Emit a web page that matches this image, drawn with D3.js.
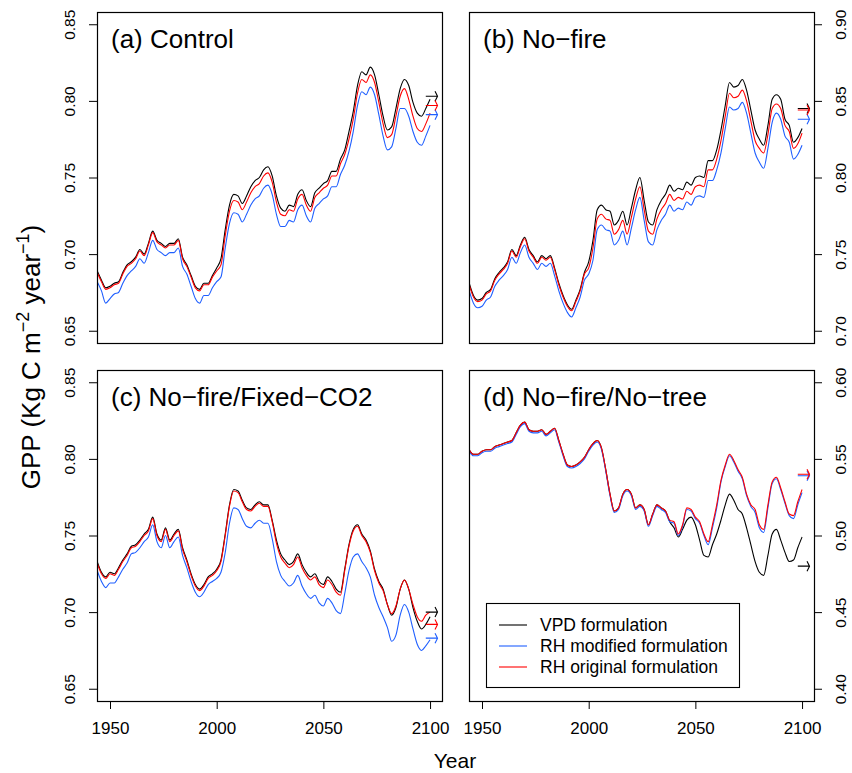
<!DOCTYPE html>
<html>
<head>
<meta charset="utf-8">
<script src="https://cdn.jsdelivr.net/npm/d3@7"></script>
<style>
  body { margin: 0; background: #fff; }
  svg { display: block; }
  text { font-family: "Liberation Sans", Arial, Helvetica, sans-serif; fill: #000; }
</style>
</head>
<body>
<svg id="chart" width="852" height="773"></svg>
<script>
// sample years shared by every panel (every 2 years)
var years = [1944, 1946, 1948, 1950, 1952, 1954, 1956, 1958,
             1960, 1962, 1964, 1966, 1968, 1970, 1972, 1974, 1976, 1978,
             1980, 1982, 1984, 1986, 1988, 1990, 1992, 1994, 1996, 1998,
             2000, 2002, 2004, 2006, 2008, 2010, 2012, 2014, 2016, 2018,
             2020, 2022, 2024, 2026, 2028, 2030, 2032, 2034, 2036, 2038,
             2040, 2042, 2044, 2046, 2048, 2050, 2052, 2054, 2056, 2058,
             2060, 2062, 2064, 2066, 2068, 2070, 2072, 2074, 2076, 2078,
             2080, 2082, 2084, 2086, 2088, 2090, 2092, 2094, 2096, 2098, 2100];

var seriesNames = ["VPD formulation", "RH modified formulation", "RH original formulation"];
var seriesColors = ["#000000", "#1f5fff", "#ff0000"];

// (a) Control
var controlVpd = [0.689, 0.683, 0.678, 0.679, 0.681, 0.682, 0.688, 0.693,
                  0.695, 0.698, 0.703, 0.700, 0.707, 0.715, 0.709, 0.707, 0.705, 0.707,
                  0.707, 0.710, 0.698, 0.693, 0.686, 0.679, 0.677, 0.681, 0.681, 0.686,
                  0.691, 0.697, 0.716, 0.732, 0.739, 0.738, 0.733, 0.738, 0.744, 0.748,
                  0.750, 0.755, 0.757, 0.751, 0.738, 0.730, 0.728, 0.732, 0.731, 0.739,
                  0.742, 0.735, 0.731, 0.740, 0.743, 0.746, 0.748, 0.754, 0.754, 0.762,
                  0.768, 0.780, 0.793, 0.810, 0.819, 0.817, 0.822, 0.817, 0.804, 0.790,
                  0.781, 0.783, 0.795, 0.808, 0.814, 0.810, 0.799, 0.792, 0.790, 0.795, 0.801];
var controlRhMod = [0.682, 0.676, 0.668, 0.671, 0.674, 0.675, 0.681, 0.686,
                    0.689, 0.692, 0.697, 0.694, 0.701, 0.709, 0.703, 0.701, 0.699, 0.701,
                    0.701, 0.704, 0.692, 0.687, 0.679, 0.671, 0.668, 0.673, 0.673, 0.678,
                    0.682, 0.685, 0.704, 0.720, 0.727, 0.726, 0.721, 0.726, 0.732, 0.736,
                    0.738, 0.743, 0.745, 0.739, 0.726, 0.718, 0.718, 0.722, 0.721, 0.729,
                    0.732, 0.725, 0.721, 0.730, 0.733, 0.736, 0.738, 0.744, 0.744, 0.752,
                    0.758, 0.767, 0.780, 0.797, 0.806, 0.804, 0.809, 0.804, 0.791, 0.777,
                    0.768, 0.770, 0.782, 0.795, 0.795, 0.790, 0.780, 0.773, 0.771, 0.777, 0.784];
var controlRhOrig = [0.688, 0.682, 0.677, 0.678, 0.680, 0.681, 0.687, 0.692,
                     0.694, 0.697, 0.702, 0.699, 0.706, 0.714, 0.708, 0.706, 0.704, 0.706,
                     0.706, 0.709, 0.697, 0.692, 0.685, 0.678, 0.676, 0.680, 0.680, 0.685,
                     0.689, 0.693, 0.712, 0.728, 0.735, 0.734, 0.729, 0.734, 0.740, 0.744,
                     0.746, 0.751, 0.753, 0.747, 0.734, 0.726, 0.725, 0.729, 0.728, 0.736,
                     0.739, 0.732, 0.728, 0.737, 0.740, 0.743, 0.745, 0.751, 0.751, 0.759,
                     0.765, 0.775, 0.788, 0.805, 0.814, 0.812, 0.817, 0.812, 0.799, 0.785,
                     0.776, 0.778, 0.790, 0.803, 0.808, 0.801, 0.790, 0.782, 0.780, 0.785, 0.792];
var controlArrows = [0.803, 0.791, 0.797];

// (b) No-fire
var nofireVpd = [0.731, 0.723, 0.720, 0.721, 0.725, 0.727, 0.734, 0.738,
                 0.741, 0.745, 0.753, 0.749, 0.756, 0.761, 0.753, 0.749, 0.745, 0.749,
                 0.747, 0.749, 0.741, 0.731, 0.723, 0.717, 0.714, 0.720, 0.727, 0.738,
                 0.745, 0.759, 0.779, 0.782, 0.779, 0.778, 0.769, 0.772, 0.778, 0.769,
                 0.780, 0.792, 0.800, 0.785, 0.771, 0.769, 0.779, 0.785, 0.789, 0.795,
                 0.791, 0.793, 0.792, 0.797, 0.795, 0.800, 0.801, 0.800, 0.811, 0.811,
                 0.818, 0.831, 0.847, 0.862, 0.859, 0.860, 0.864, 0.857, 0.844, 0.831,
                 0.825, 0.821, 0.834, 0.851, 0.854, 0.851, 0.838, 0.834, 0.823, 0.826, 0.832];
var nofireRhMod = [0.726, 0.718, 0.715, 0.716, 0.720, 0.722, 0.729, 0.733,
                   0.736, 0.740, 0.748, 0.744, 0.751, 0.756, 0.748, 0.744, 0.740, 0.744,
                   0.742, 0.744, 0.736, 0.726, 0.718, 0.712, 0.709, 0.715, 0.722, 0.733,
                   0.737, 0.746, 0.766, 0.769, 0.766, 0.765, 0.756, 0.759, 0.765, 0.756,
                   0.767, 0.779, 0.787, 0.772, 0.758, 0.756, 0.766, 0.772, 0.776, 0.782,
                   0.778, 0.780, 0.779, 0.784, 0.782, 0.787, 0.788, 0.787, 0.798, 0.798,
                   0.805, 0.816, 0.832, 0.846, 0.844, 0.845, 0.849, 0.842, 0.829, 0.816,
                   0.810, 0.806, 0.819, 0.836, 0.842, 0.838, 0.827, 0.823, 0.812, 0.815, 0.821];
var nofireRhOrig = [0.730, 0.722, 0.719, 0.720, 0.724, 0.726, 0.733, 0.737,
                    0.740, 0.744, 0.752, 0.748, 0.755, 0.760, 0.752, 0.748, 0.744, 0.748,
                    0.746, 0.748, 0.740, 0.730, 0.722, 0.716, 0.713, 0.719, 0.726, 0.737,
                    0.741, 0.754, 0.773, 0.776, 0.773, 0.772, 0.763, 0.766, 0.772, 0.763,
                    0.774, 0.786, 0.794, 0.779, 0.765, 0.763, 0.773, 0.779, 0.783, 0.789,
                    0.785, 0.787, 0.786, 0.791, 0.789, 0.794, 0.795, 0.794, 0.805, 0.805,
                    0.812, 0.824, 0.840, 0.855, 0.852, 0.853, 0.857, 0.850, 0.837, 0.824,
                    0.819, 0.816, 0.828, 0.845, 0.848, 0.845, 0.834, 0.830, 0.819, 0.822, 0.829];
var nofireArrows = [0.845, 0.838, 0.844];

// (c) No-fire/Fixed-CO2
var fixedVpd = [0.733, 0.726, 0.723, 0.726, 0.725, 0.729, 0.734, 0.738,
                0.743, 0.744, 0.747, 0.751, 0.754, 0.762, 0.751, 0.747, 0.755, 0.747,
                0.751, 0.754, 0.742, 0.734, 0.725, 0.718, 0.715, 0.718, 0.723, 0.725,
                0.728, 0.734, 0.751, 0.770, 0.780, 0.779, 0.773, 0.768, 0.767, 0.770,
                0.772, 0.770, 0.770, 0.760, 0.747, 0.738, 0.734, 0.731, 0.733, 0.738,
                0.731, 0.726, 0.723, 0.725, 0.720, 0.718, 0.723, 0.720, 0.715, 0.713,
                0.728, 0.744, 0.754, 0.757, 0.751, 0.747, 0.740, 0.728, 0.720, 0.715,
                0.705, 0.698, 0.703, 0.715, 0.721, 0.715, 0.703, 0.694, 0.689, 0.692, 0.697];
var fixedRhMod = [0.727, 0.720, 0.716, 0.719, 0.719, 0.723, 0.728, 0.732,
                  0.738, 0.739, 0.742, 0.746, 0.749, 0.757, 0.746, 0.742, 0.750, 0.742,
                  0.746, 0.749, 0.737, 0.729, 0.720, 0.713, 0.710, 0.713, 0.718, 0.720,
                  0.722, 0.726, 0.739, 0.758, 0.768, 0.767, 0.761, 0.756, 0.755, 0.758,
                  0.760, 0.758, 0.758, 0.748, 0.733, 0.724, 0.720, 0.717, 0.719, 0.724,
                  0.717, 0.712, 0.709, 0.711, 0.706, 0.704, 0.709, 0.706, 0.701, 0.699,
                  0.712, 0.727, 0.736, 0.738, 0.733, 0.729, 0.723, 0.711, 0.703, 0.697,
                  0.690, 0.681, 0.685, 0.698, 0.705, 0.700, 0.689, 0.679, 0.675, 0.678, 0.682];
var fixedRhOrig = [0.732, 0.725, 0.722, 0.725, 0.724, 0.728, 0.733, 0.737,
                   0.742, 0.743, 0.746, 0.750, 0.753, 0.761, 0.750, 0.746, 0.754, 0.746,
                   0.750, 0.753, 0.741, 0.733, 0.724, 0.717, 0.714, 0.717, 0.722, 0.724,
                   0.727, 0.733, 0.750, 0.769, 0.779, 0.778, 0.772, 0.767, 0.766, 0.769,
                   0.771, 0.769, 0.769, 0.759, 0.745, 0.736, 0.732, 0.729, 0.731, 0.736,
                   0.729, 0.724, 0.721, 0.723, 0.718, 0.716, 0.721, 0.718, 0.713, 0.711,
                   0.727, 0.743, 0.753, 0.756, 0.750, 0.746, 0.739, 0.727, 0.719, 0.714,
                   0.705, 0.699, 0.704, 0.715, 0.721, 0.715, 0.705, 0.697, 0.694, 0.698, 0.700];
var fixedArrows = [0.700, 0.683, 0.692];

// (d) No-fire/No-tree
var notreeVpd = [0.556, 0.553, 0.553, 0.555, 0.556, 0.556, 0.558, 0.559,
                 0.560, 0.561, 0.562, 0.567, 0.572, 0.574, 0.569, 0.568, 0.568, 0.569,
                 0.566, 0.568, 0.570, 0.562, 0.553, 0.546, 0.545, 0.546, 0.548, 0.551,
                 0.556, 0.560, 0.562, 0.557, 0.543, 0.527, 0.516, 0.518, 0.527, 0.530,
                 0.527, 0.518, 0.520, 0.517, 0.507, 0.514, 0.520, 0.518, 0.516, 0.509,
                 0.505, 0.499, 0.504, 0.510, 0.512, 0.507, 0.497, 0.487, 0.486, 0.494,
                 0.501, 0.510, 0.520, 0.527, 0.523, 0.517, 0.514, 0.505, 0.494, 0.483,
                 0.476, 0.474, 0.487, 0.501, 0.504, 0.497, 0.489, 0.483, 0.484, 0.492, 0.499];
var notreeRhMod = [0.555, 0.552, 0.552, 0.554, 0.555, 0.555, 0.557, 0.558,
                   0.559, 0.560, 0.561, 0.566, 0.571, 0.573, 0.568, 0.567, 0.567, 0.568,
                   0.565, 0.567, 0.569, 0.561, 0.552, 0.545, 0.544, 0.545, 0.547, 0.550,
                   0.555, 0.559, 0.561, 0.556, 0.542, 0.526, 0.515, 0.517, 0.526, 0.529,
                   0.526, 0.517, 0.519, 0.516, 0.506, 0.513, 0.519, 0.517, 0.515, 0.509,
                   0.508, 0.500, 0.506, 0.517, 0.516, 0.511, 0.508, 0.500, 0.494, 0.505,
                   0.518, 0.535, 0.545, 0.552, 0.548, 0.542, 0.537, 0.526, 0.519, 0.515,
                   0.505, 0.502, 0.518, 0.534, 0.537, 0.530, 0.521, 0.513, 0.511, 0.520, 0.528];
var notreeRhOrig = [0.556, 0.553, 0.553, 0.555, 0.556, 0.556, 0.558, 0.559,
                    0.560, 0.561, 0.562, 0.567, 0.572, 0.574, 0.569, 0.568, 0.568, 0.569,
                    0.566, 0.568, 0.570, 0.562, 0.553, 0.546, 0.545, 0.546, 0.548, 0.551,
                    0.556, 0.560, 0.562, 0.557, 0.543, 0.527, 0.516, 0.518, 0.527, 0.530,
                    0.527, 0.518, 0.520, 0.517, 0.507, 0.514, 0.520, 0.518, 0.516, 0.510,
                    0.509, 0.501, 0.507, 0.518, 0.517, 0.512, 0.509, 0.501, 0.496, 0.507,
                    0.520, 0.536, 0.546, 0.553, 0.549, 0.543, 0.538, 0.527, 0.520, 0.517,
                    0.507, 0.504, 0.520, 0.535, 0.538, 0.531, 0.522, 0.514, 0.513, 0.522, 0.530];
var notreeArrows = [0.480, 0.539, 0.540];

var xTicks = [1950, 2000, 2050, 2100];
var ticksLow = [0.65, 0.70, 0.75, 0.80, 0.85];
var ticksHigh = [0.70, 0.75, 0.80, 0.85, 0.90];
var ticksTree = [0.40, 0.45, 0.50, 0.55, 0.60];

var panels = [
    { title: "(a) Control", series: [controlVpd, controlRhMod, controlRhOrig], arrows: controlArrows,
      yDomain: [0.642, 0.858], yTicks: ticksLow, side: "left", left: 97, top: 12 },
    { title: "(b) No\u2212fire", series: [nofireVpd, nofireRhMod, nofireRhOrig], arrows: nofireArrows,
      yDomain: [0.692, 0.908], yTicks: ticksHigh, side: "right", left: 469, top: 12 },
    { title: "(c) No\u2212fire/Fixed\u2212CO2", series: [fixedVpd, fixedRhMod, fixedRhOrig], arrows: fixedArrows,
      yDomain: [0.642, 0.858], yTicks: ticksLow, side: "left", left: 97, top: 370 },
    { title: "(d) No\u2212fire/No\u2212tree", series: [notreeVpd, notreeRhMod, notreeRhOrig], arrows: notreeArrows,
      yDomain: [0.392, 0.608], yTicks: ticksTree, side: "right", left: 469, top: 370 }
];

var panelW = 345, panelH = 331;
var svg = d3.select("#chart");

var x = d3.scaleLinear().domain([1943.9, 2105.6]).range([0, panelW]);

function drawPanel(p, i) {
    var g = svg.append("g")
        .attr("transform", "translate(" + p.left + "," + p.top + ")");
    var y = d3.scaleLinear().domain(p.yDomain).range([panelH, 0]);

    // x axis only on bottom row
    if (i >= 2) {
        var xa = g.append("g")
            .attr("transform", "translate(0," + panelH + ")")
            .call(d3.axisBottom(x).tickValues(xTicks).tickFormat(d3.format("d"))
                .tickSize(8).tickSizeOuter(0).tickPadding(13));
        xa.select(".domain").remove();
        xa.selectAll("text").style("font-size", "17px");
    }

    var ya;
    if (p.side == "left") {
        ya = g.append("g").call(d3.axisLeft(y).tickValues(p.yTicks).tickFormat(d3.format(".2f"))
            .tickSize(8).tickSizeOuter(0));
        ya.selectAll("text")
            .attr("x", null).attr("dy", null)
            .attr("text-anchor", "middle")
            .attr("transform", "translate(-22,0) rotate(-90)");
    } else {
        ya = g.append("g").attr("transform", "translate(" + panelW + ",0)")
            .call(d3.axisRight(y).tickValues(p.yTicks).tickFormat(d3.format(".2f"))
                .tickSize(8).tickSizeOuter(0));
        ya.selectAll("text")
            .attr("x", null).attr("dy", null)
            .attr("text-anchor", "middle")
            .attr("transform", "translate(32,0) rotate(-90)");
    }
    ya.select(".domain").remove();
    ya.selectAll("text").style("font-size", "15.5px");
    g.selectAll(".tick line").attr("stroke", "#000");

    var clip = "clip" + i;
    g.append("clipPath").attr("id", clip)
        .append("rect").attr("width", panelW).attr("height", panelH);

    var line = d3.line()
        .x(function (d) { return x(d[0]); })
        .y(function (d) { return y(d[1]); })
        .curve(d3.curveMonotoneX);

    p.series.forEach(function (vals, k) {
        var pts = years.map(function (yr, j) { return [yr, vals[j]]; });
        g.append("path")
            .datum(pts)
            .attr("clip-path", "url(#" + clip + ")")
            .attr("d", line)
            .style("fill", "none")
            .style("stroke", seriesColors[k])
            .style("stroke-width", 1.1);
    });

    // end-of-century arrows
    p.arrows.forEach(function (v, k) {
        var x0 = x(2098), x1 = x(2103.5), yy = y(v);
        g.append("path")
            .attr("d", "M" + x0 + "," + yy + "L" + x1 + "," + yy +
                "M" + (x1 - 2.5) + "," + (yy - 5) + "L" + x1 + "," + yy + "L" + (x1 - 2.5) + "," + (yy + 5))
            .style("fill", "none")
            .style("stroke", seriesColors[k])
            .style("stroke-width", 1.1);
    });

    g.append("rect")
        .attr("x", 0.5).attr("y", 0.5)
        .attr("width", panelW).attr("height", panelH)
        .style("fill", "none").style("stroke", "#000").style("stroke-width", 1.2);

    g.append("text")
        .attr("x", 14).attr("y", 36)
        .style("font-size", "26px")
        .text(p.title);

    if (i == 3) {
        var lg = g.append("g").attr("transform", "translate(17,233)");
        lg.append("rect")
            .attr("x", 0.5).attr("y", 0.5).attr("width", 253).attr("height", 84)
            .style("fill", "#fff").style("stroke", "#000").style("stroke-width", 1.1);
        seriesNames.forEach(function (name, k) {
            var ly = 22 + k * 21;
            lg.append("line")
                .attr("x1", 13).attr("x2", 41).attr("y1", ly).attr("y2", ly)
                .style("stroke", seriesColors[k]).style("stroke-width", 1.1);
            lg.append("text")
                .attr("x", 54).attr("y", ly + 6)
                .style("font-size", "17.5px")
                .text(name);
        });
    }
}

panels.forEach(drawPanel);

// shared axis titles
svg.append("text")
    .attr("x", 455).attr("y", 768)
    .attr("text-anchor", "middle")
    .style("font-size", "21px")
    .text("Year");

var yl = svg.append("text")
    .attr("text-anchor", "middle")
    .attr("transform", "translate(40,357) rotate(-90)")
    .style("font-size", "26px");
yl.append("tspan").text("GPP (Kg C m");
yl.append("tspan").attr("dy", -11).style("font-size", "18px").text("\u22122");
yl.append("tspan").attr("dy", 11).text(" year");
yl.append("tspan").attr("dy", -11).style("font-size", "18px").text("\u22121");
yl.append("tspan").attr("dy", 11).text(")");
</script>
</body>
</html>
